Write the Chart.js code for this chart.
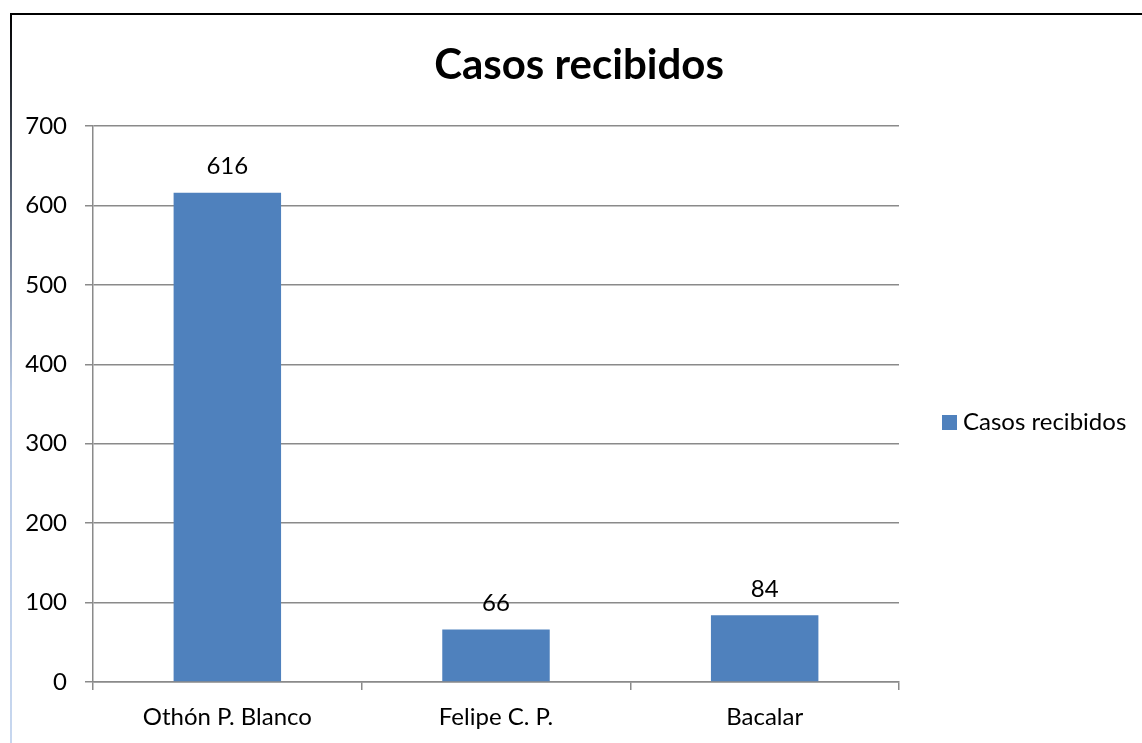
<!DOCTYPE html>
<html>
<head>
<meta charset="utf-8">
<script src="https://cdn.jsdelivr.net/npm/chart.js@4/dist/chart.umd.min.js"></script>
<style>
  html, body { margin: 0; padding: 0; background: #ffffff; }
  #wrap { position: relative; width: 1142px; height: 743px; overflow: hidden; }
  canvas { position: absolute; left: 0; top: 0; }
  #topBorder { position: absolute; left: 10px; top: 13px; width: 1200px; height: 2px; background: #000; }
  #leftBorder { position: absolute; left: 10px; top: 13px; width: 2px; height: 760px;
    background: linear-gradient(to bottom, #000 0px, #5a6678 180px, #b9c9e3 380px, #c8d8f0 760px); }
</style>
</head>
<body>
<div id="wrap">
  <canvas id="c" width="1142" height="743"></canvas>
  <div id="topBorder"></div>
  <div id="leftBorder"></div>
</div>
<script>
const chartTitle = "Casos recibidos";
const categories = ["Othón P. Blanco", "Felipe C. P.", "Bacalar"];
const seriesName = "Casos recibidos";
const seriesValues = [616, 66, 84];
const yTicks = [0, 100, 200, 300, 400, 500, 600, 700];

const FONT = "Lato";
const barColor = "#4F81BD";
const gridColor = "#8a8a8a";

const valueLabels = {
  id: "valueLabels",
  afterDatasetsDraw(chart) {
    const ctx = chart.ctx;
    ctx.save();
    ctx.font = "24px " + FONT;
    ctx.fillStyle = "#000";
    ctx.textAlign = "center";
    ctx.textBaseline = "middle";
    chart.data.datasets.forEach((ds, di) => {
      chart.getDatasetMeta(di).data.forEach((bar, i) => {
        ctx.fillText(String(ds.data[i]), bar.x, bar.y - 26);
      });
    });
    ctx.restore();
  }
};

const sideLegend = {
  id: "sideLegend",
  afterDraw(chart) {
    const ctx = chart.ctx;
    const ds = chart.data.datasets[0];
    const x = chart.chartArea.right + 43;
    const y = 422;
    ctx.save();
    ctx.fillStyle = ds.backgroundColor;
    ctx.fillRect(x, y - 7, 15, 15);
    ctx.font = "24px " + FONT;
    ctx.fillStyle = "#000";
    ctx.textAlign = "left";
    ctx.textBaseline = "middle";
    ctx.fillText(ds.label, x + 21, y);
    ctx.restore();
  }
};

new Chart(document.getElementById("c"), {
  type: "bar",
  data: {
    labels: categories,
    datasets: [{
      label: seriesName,
      data: seriesValues,
      backgroundColor: barColor,
      borderWidth: 0,
      barPercentage: 0.4,
      categoryPercentage: 1.0
    }]
  },
  options: {
    responsive: false,
    animation: false,
    devicePixelRatio: 1,
    layout: { padding: { left: 16, right: 0, top: 0, bottom: 0 } },
    plugins: {
      legend: { display: false },
      tooltip: { enabled: false },
      title: {
        display: true,
        text: chartTitle,
        color: "#000",
        font: { family: FONT, size: 42, weight: "bold", lineHeight: 1.2 },
        padding: { top: 40, bottom: 35.6 }
      }
    },
    scales: {
      x: {
        position: "bottom",
        grid: { display: true, drawOnChartArea: false, drawTicks: true, tickLength: 8, color: gridColor, lineWidth: 1.5, offset: true },
        border: { display: true, color: gridColor, width: 1.5 },
        ticks: { color: "#000", font: { family: FONT, size: 24 }, padding: 13, maxRotation: 0, autoSkip: false },
        afterFit(scale) { scale.height = 61; }
      },
      y: {
        position: "left",
        min: 0,
        max: 700,
        afterBuildTicks(scale) { scale.ticks = yTicks.map(v => ({ value: v })); },
        grid: { color: gridColor, lineWidth: 1.5, drawTicks: true, tickLength: 8 },
        border: { display: true, color: gridColor, width: 1.5 },
        ticks: { color: "#000", font: { family: FONT, size: 24 }, padding: 18 },
        afterFit(scale) { scale.width = 77; }
      },
      legendSpace: {
        position: "right",
        display: true,
        grid: { display: false, drawTicks: false },
        border: { display: false },
        ticks: { display: false },
        afterFit(scale) { scale.width = 243; }
      }
    }
  },
  plugins: [valueLabels, sideLegend]
});
</script>
</body>
</html>
